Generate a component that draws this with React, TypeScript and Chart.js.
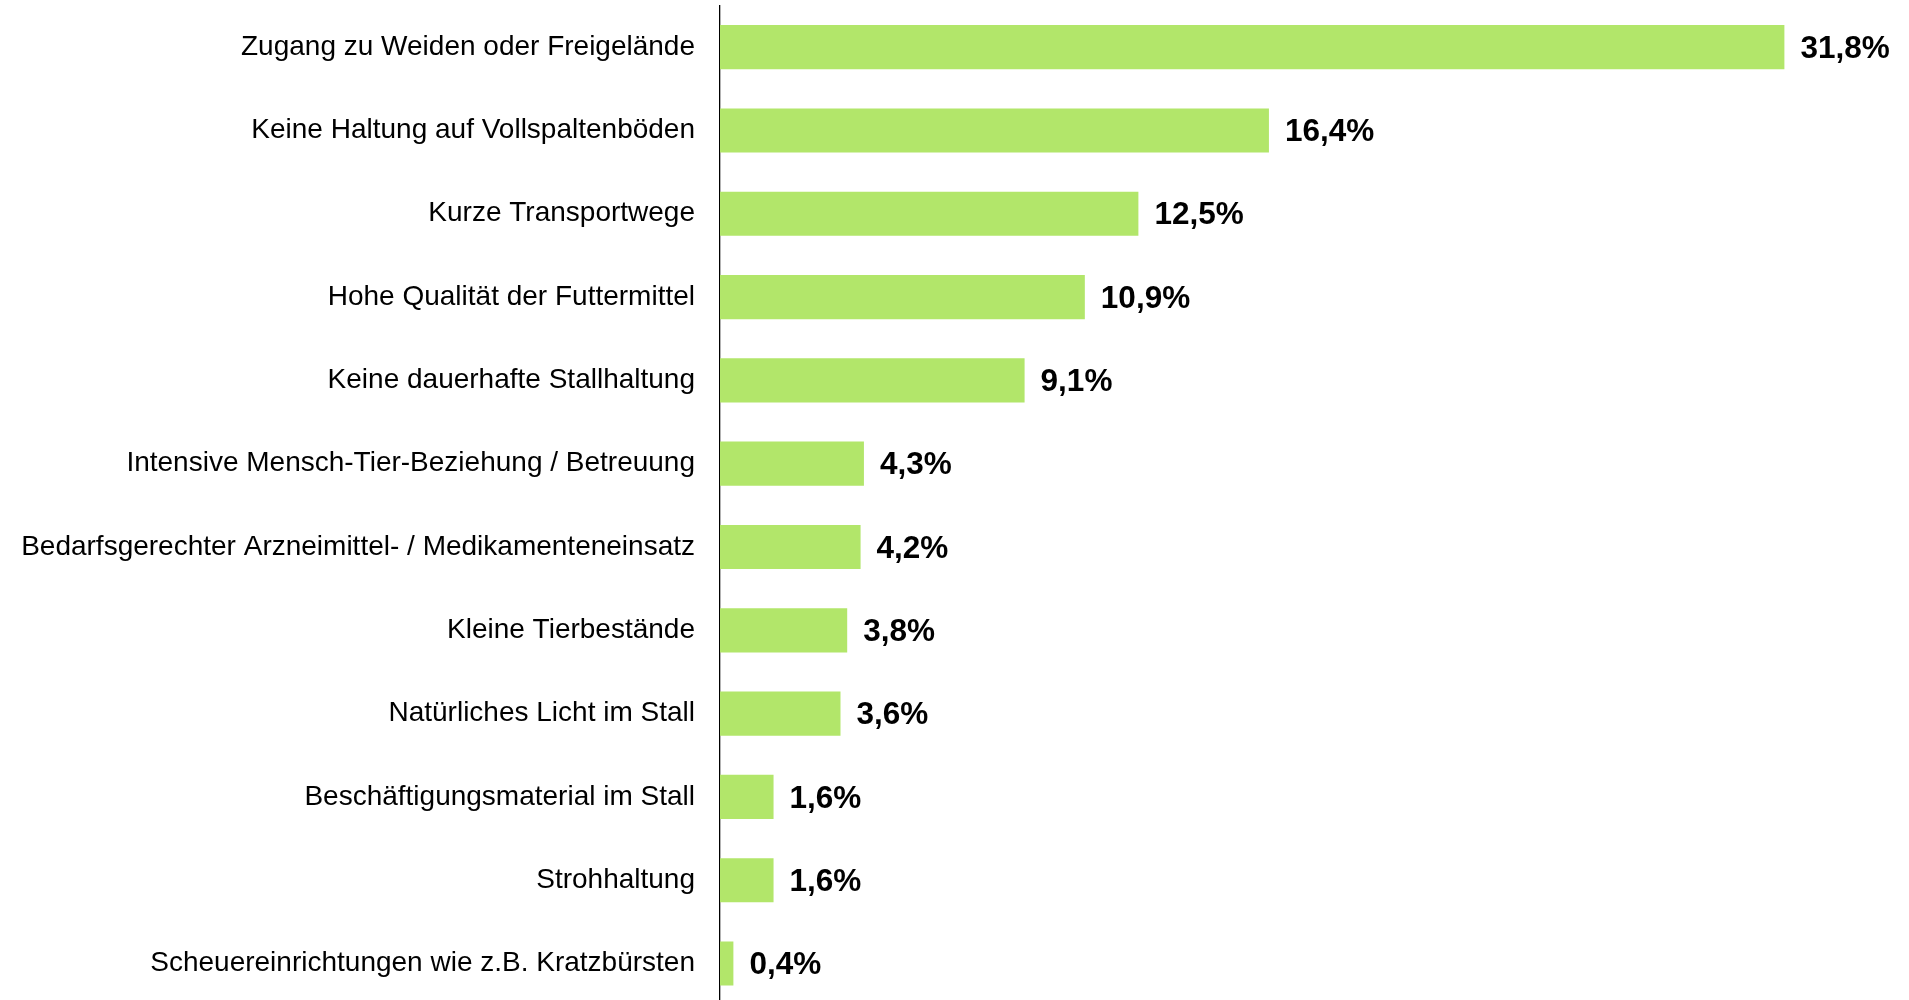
import React, { useEffect, useRef } from "react";
import { Chart, registerables } from "chart.js";

Chart.register(...registerables);

const categories = [
  "Zugang zu Weiden oder Freigelände",
  "Keine Haltung auf Vollspaltenböden",
  "Kurze Transportwege",
  "Hohe Qualität der Futtermittel",
  "Keine dauerhafte Stallhaltung",
  "Intensive Mensch-Tier-Beziehung / Betreuung",
  "Bedarfsgerechter Arzneimittel- / Medikamenteneinsatz",
  "Kleine Tierbestände",
  "Natürliches Licht im Stall",
  "Beschäftigungsmaterial im Stall",
  "Strohhaltung",
  "Scheuereinrichtungen wie z.B. Kratzbürsten",
];

const values = [31.8, 16.4, 12.5, 10.9, 9.1, 4.3, 4.2, 3.8, 3.6, 1.6, 1.6, 0.4];

const xMin = 0;
const xMax = 35;

const FONT = "'Liberation Sans', Arial, Helvetica, sans-serif";

const valueLabelPlugin = {
  id: "valueLabels",
  afterDatasetsDraw(chart: any) {
    const ctx = chart.ctx;
    const meta = chart.getDatasetMeta(0);
    ctx.save();
    ctx.font = `bold 31.5px ${FONT}`;
    ctx.fillStyle = "#000";
    ctx.textAlign = "left";
    ctx.textBaseline = "middle";
    meta.data.forEach((bar: any, i: number) => {
      const v = values[i];
      const txt = v.toFixed(1).replace(".", ",") + "%";
      ctx.fillText(txt, bar.x + 16, bar.y + 2);
    });
    ctx.restore();
  },
};

export default function App() {
  const ref = useRef<HTMLCanvasElement | null>(null);

  useEffect(() => {
    if (!ref.current) return;
    const chart = new Chart(ref.current, {
      type: "bar",
      data: {
        labels: categories,
        datasets: [
          {
            data: values,
            backgroundColor: "#b2e66a",
            borderWidth: 0,
            barPercentage: 0.53,
            categoryPercentage: 1.0,
          },
        ],
      },
      options: {
        indexAxis: "y",
        animation: false,
        responsive: false,
        maintainAspectRatio: false,
        layout: { padding: { top: 5.5, bottom: 4.8, left: 0, right: 17.5 } },
        plugins: {
          legend: { display: false },
          tooltip: { enabled: false },
        },
        scales: {
          x: {
            display: false,
            min: xMin,
            max: xMax,
          },
          y: {
            grid: { display: false, drawTicks: false },
            border: { display: true, color: "#000", width: 1.3 },
            ticks: {
              autoSkip: false,
              padding: 25,
              color: "#000",
              font: { family: FONT, size: 28 },
            },
            afterFit(scale: any) {
              scale.width = 720;
              scale.paddingTop = 0;
              scale.paddingBottom = 0;
            },
          },
        },
      },
      plugins: [valueLabelPlugin],
    });
    return () => chart.destroy();
  }, []);

  return (
    <div style={{ position: "absolute", left: 0, top: 0, width: 1909, height: 1010, background: "#fff" }}>
      <canvas ref={ref} width={1909} height={1010} style={{ display: "block" }} />
    </div>
  );
}
